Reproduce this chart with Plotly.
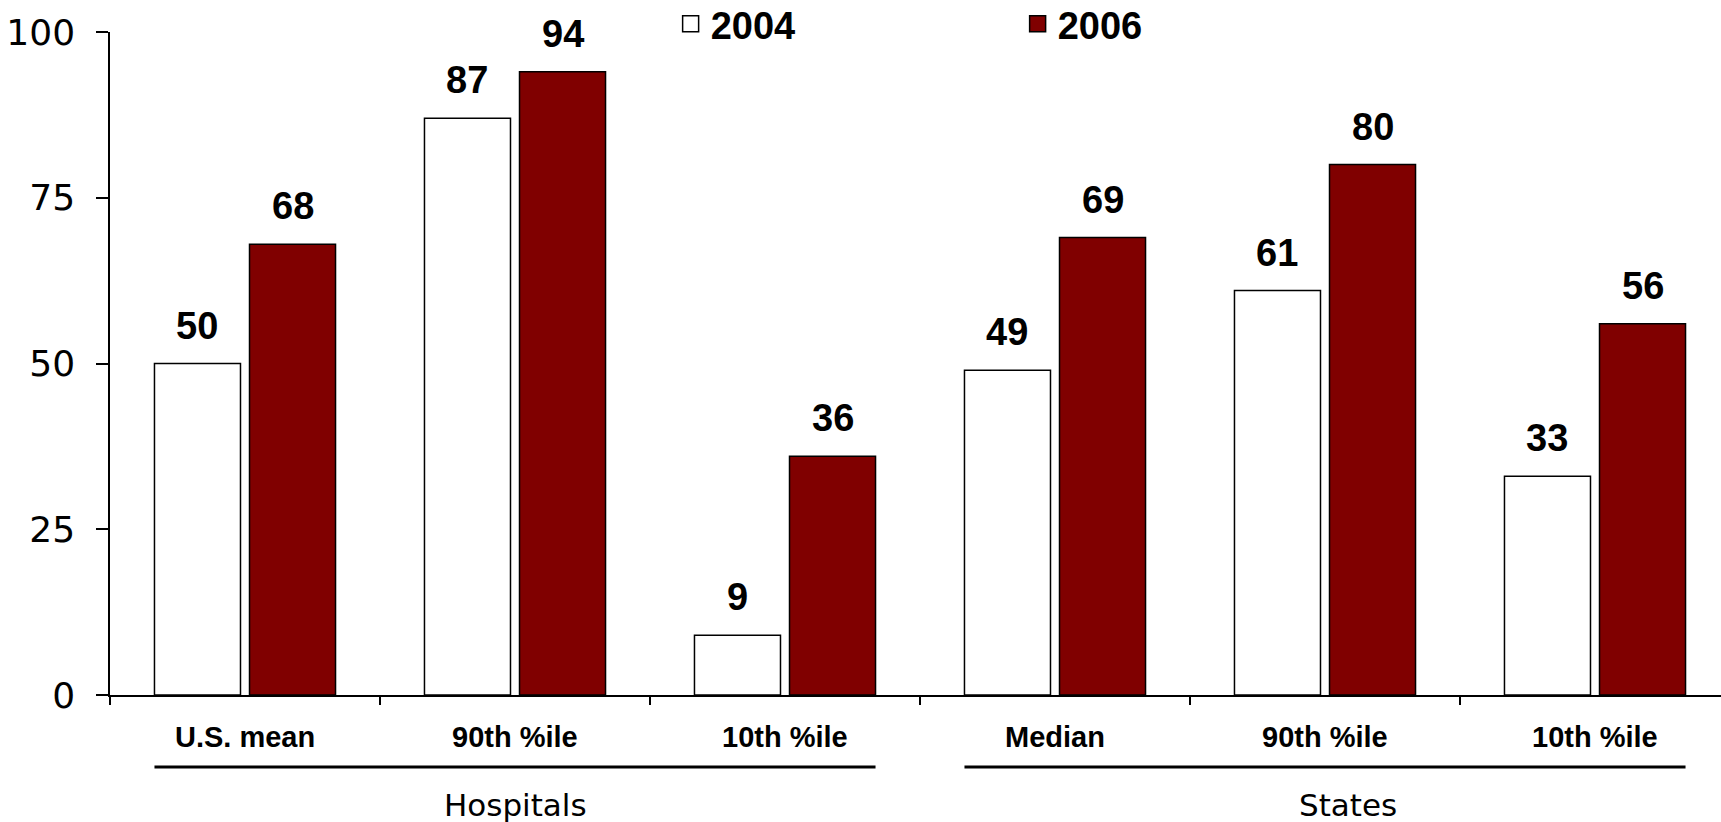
import plotly.graph_objects as go

categories = ["U.S. mean", "90th %ile", "10th %ile", "Median", "90th %ile", "10th %ile"]
groups = ["Hospitals", "States"]
group_members = [[0, 1, 2], [3, 4, 5]]
values_2004 = [50, 87, 9, 49, 61, 33]
values_2006 = [68, 94, 36, 69, 80, 56]
series_names = ["2004", "2006"]
y_ticks = [0, 25, 50, 75, 100]

MAROON = "#800000"
BOLD = "Liberation Sans, Arial, sans-serif"
WIDE = "DejaVu Sans, Verdana, sans-serif"

xpos = list(range(len(categories)))
bargap = 0.296
bargroupgap = 0.095
slot = (1 - bargap) / 2  # width of one series slot in category units

fig = go.Figure()
fig.add_trace(go.Bar(x=xpos, y=values_2004, name=series_names[0], showlegend=False,
                     marker=dict(color="white", line=dict(color="black", width=1.5))))
fig.add_trace(go.Bar(x=xpos, y=values_2006, name=series_names[1], showlegend=False,
                     marker=dict(color=MAROON, line=dict(color="black", width=1.5))))
# legend entries
for name, col in zip(series_names, ["white", MAROON]):
    fig.add_trace(go.Scatter(x=[None], y=[None], mode="markers", name=name,
                             marker=dict(symbol="square", size=16, color=col,
                                         line=dict(color="black", width=1.5))))

annotations = []
# value labels
for i in xpos:
    for vals, sign in ((values_2004, -1), (values_2006, 1)):
        annotations.append(dict(x=i + sign * slot / 2, y=vals[i], xref="x", yref="y",
                                text=f"<b>{vals[i]}</b>", showarrow=False, yanchor="middle",
                                yshift=38, font=dict(family=BOLD, size=38, color="black")))
# category labels
for i, c in enumerate(categories):
    annotations.append(dict(x=i, y=0, xref="x", yref="paper", text=f"<b>{c}</b>",
                            showarrow=False, yanchor="middle", yshift=-42,
                            font=dict(family=BOLD, size=29, color="black")))
shapes = []
for g, members, xs in zip(groups, group_members, [0, 23]):
    mid = sum(members) / len(members)
    annotations.append(dict(x=mid, y=0, xref="x", yref="paper", text=g, showarrow=False,
                            yanchor="bottom", yshift=-130, xshift=xs,
                            font=dict(family=WIDE, size=31, color="black")))
    x0 = members[0] - slot + slot * bargroupgap / 2
    x1 = members[-1] + slot - slot * bargroupgap / 2
    shapes.append(dict(type="line", xref="x", yref="paper", ysizemode="pixel", yanchor=0,
                       x0=x0, x1=x1, y0=-72, y1=-72, line=dict(color="black", width=3)))

fig.update_layout(
    width=1721, height=822,
    margin=dict(l=110, r=0, t=32, b=127, autoexpand=False),
    paper_bgcolor="white", plot_bgcolor="white",
    barmode="group", bargap=bargap, bargroupgap=bargroupgap,
    annotations=annotations, shapes=shapes,
    legend=dict(orientation="h", x=0.348, xanchor="left", y=1.012, yanchor="middle",
                entrywidth=302, entrywidthmode="pixels",
                font=dict(family=BOLD, size=38, color="black", weight="bold"),
                bgcolor="rgba(0,0,0,0)"),
    xaxis=dict(range=[-0.5, -0.5 + 1611 / 270], tickvals=[i - 0.5 for i in xpos],
               ticktext=[""] * len(xpos), ticks="outside", ticklen=8, tickwidth=1.5,
               tickcolor="black", showline=True, linecolor="black", linewidth=1.5,
               showgrid=False, zeroline=False, fixedrange=True),
    yaxis=dict(range=[0, 100], tickvals=y_ticks, ticks="outside", ticklen=12, tickwidth=1.5,
               tickcolor="black", showline=True, linecolor="black", linewidth=1.5,
               showgrid=False, zeroline=False, ticklabelstandoff=14,
               tickfont=dict(family=WIDE, size=36, color="black")),
)
fig.write_html("out.html")
